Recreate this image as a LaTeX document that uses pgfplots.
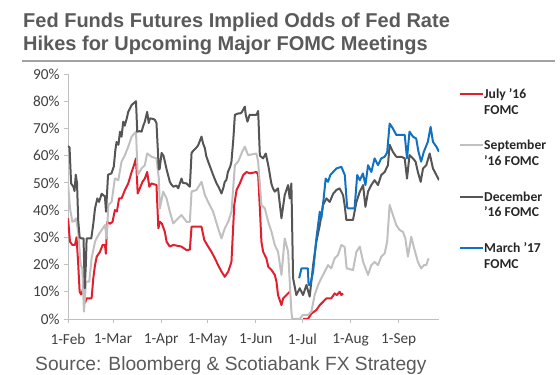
\documentclass[border=0pt]{standalone}
\usepackage{pgfplots}
\pgfplotsset{compat=1.18}
\usepackage{fontspec}
\setmainfont{Carlito}
\newfontfamily\arialfont{Liberation Sans}
\definecolor{cRed}{HTML}{E0202E}
\definecolor{cLight}{HTML}{C0C0C0}
\definecolor{cDark}{HTML}{555555}
\definecolor{cBlue}{HTML}{1172C2}
\definecolor{axisgray}{HTML}{BFBFBF}
\definecolor{ticktext}{HTML}{404040}
\definecolor{titlegray}{HTML}{5A5A5A}
\begin{document}
\begin{tikzpicture}
\useasboundingbox (0,0) rectangle (560pt,375pt);
\node[anchor=base west, inner sep=0pt, text=titlegray, font=\arialfont\bfseries\fontsize{20}{24}\selectfont] at (23pt,347pt) {Fed Funds Futures Implied Odds of Fed Rate};
\node[anchor=base west, inner sep=0pt, text=titlegray, font=\arialfont\bfseries\fontsize{20}{24}\selectfont] at (23pt,324pt) {Hikes for Upcoming Major FOMC Meetings};
\draw[line width=2.5pt, color=axisgray!85!black] (22pt,314pt) -- (555pt,314pt);
\node[anchor=base west, inner sep=0pt, text=titlegray, font=\arialfont\fontsize{19.2}{23}\selectfont] at (35pt,4pt) {Source: Bloomberg \& Scotiabank FX Strategy};
\begin{axis}[
  at={(68pt,56pt)}, anchor=south west,
  scale only axis, width=371pt, height=245pt,
  xmin=0, xmax=239, ymin=0, ymax=90,
  axis lines=left, axis line style={-, draw=axisgray, line width=0.9pt},
  xtick={0,29,60,90,121,151,182,213},
  xticklabels={1-Feb,1-Mar,1-Apr,1-May,1-Jun,1-Jul,1-Aug,1-Sep},
  ytick={0,10,20,30,40,50,60,70,80,90},
  yticklabels={0\%,10\%,20\%,30\%,40\%,50\%,60\%,70\%,80\%,90\%},
  tick align=outside, major tick length=4pt,
  tick style={draw=axisgray, line width=0.9pt},
  ticklabel style={font=\fontsize{15.3}{18}\selectfont, text=ticktext},
  xticklabel style={yshift=-7pt},
  yticklabel style={xshift=-1pt},
  unbounded coords=jump,
  every axis plot/.append style={line width=2pt, line join=round, mark=none},
  legend style={at={(1.054,0.945)}, anchor=north west, draw=none, fill=none,
    inner sep=0pt, row sep=39pt, column sep=0pt,
    font=\bfseries\fontsize{13.6}{15.5}\selectfont, text=black!85,
    nodes={inner sep=0pt}},
  legend cell align=left,
  legend image code/.code={\draw[#1, line width=2pt] (0pt,0pt) -- (23pt,0pt);},
]
\addplot[cRed] coordinates {
(0,37) (1.3,28.4) (2.8,27.2) (4.5,27.2) (5.5,30) (6.5,21) (7.5,10) (8.5,9) (9.9,11.3) (11,6) (12,7.6) (15.2,7.6) (16.3,15) (17.4,19.8) (18.5,22.9) (20.6,24.7) (22.3,27.2) (23.8,27.2) (24.4,24) (25.3,35.7) (27,35) (28.7,35.7) (30.2,40) (31.5,39.5) (32.9,44.3) (34.5,44.3) (36.7,47.4) (38.8,49.8) (41,54) (42.5,56.5) (43.8,59) (44.9,46.1) (46.3,48) (48,50.4) (49.5,51.6) (51,54) (52.4,48.6) (53.8,49.8) (57,49.2) (58.2,33.3) (59.2,35.7) (60.5,35) (62.4,32) (63.5,28.4) (65.6,26.6) (67.8,27.2) (73.1,26.6) (76.4,25.3) (78.5,25.5) (79.6,33.9) (86,33.9) (87.8,29) (90.3,26.6) (92.4,24.7) (94.6,22.3) (96.7,19.8) (98.9,17.4) (101,15.5) (103.2,17.4) (105.3,21) (107.1,41.9) (108.6,47.4) (110.7,49.8) (112.9,52.9) (115,54) (117.1,53.5) (121.4,54) (122.5,53) (123.6,40.6) (124.6,28.4) (125.7,24.7) (127.8,22.3) (129,19.2) (131.1,18) (133.2,16.2) (134.3,13.7) (135.3,8.8) (137.5,5.1) (138.6,7.6) (140.7,8.8) (142.8,10) (146,nan) (151.4,0) (154.6,0) (156.8,2) (160,3.3) (162.2,5.1) (166.5,7.6) (169.6,7.6) (171.8,9.4) (173.2,8.8) (175,10) (176.1,8.8) (177.2,9.4)
};
\addlegendentry{\begin{tabular}[t]{@{}l@{}}July '16\\FOMC\end{tabular}}
\addplot[cLight] coordinates {
(0,49.8) (1.3,40.6) (2.8,35.7) (4,36) (5.1,37) (6.6,32) (7.5,25) (8.2,19.8) (9.2,18.6) (10.3,2.7) (11.6,13.7) (13.7,13.7) (15.2,22.3) (17.4,28.4) (19.5,30.8) (21.7,32.7) (23.8,34.5) (24.9,29.6) (26,41.9) (28.1,43) (30.2,51.6) (32.4,51) (34.5,57.8) (36.7,60.2) (38.8,63.3) (41,67) (43.8,68.8) (44.9,52.9) (47.4,55.3) (49.5,56.5) (51,60.8) (53.8,59.6) (57,59) (58.5,51.6) (59.2,40.6) (61.3,46.8) (63.5,44.3) (65.6,39.4) (67.8,35.1) (69.9,36.4) (73.1,38.2) (76.4,35.7) (78.5,35.7) (79.6,46.8) (82.8,47.4) (86,50.4) (88.2,45.5) (90.3,43) (93.5,39.4) (96.7,33.3) (98.9,29.6) (101,33.3) (103.2,35.7) (105.3,39.4) (107.5,56.5) (109.6,57.8) (112.2,61.4) (113.9,63.3) (116,60.2) (121.4,60.8) (122.5,57.8) (124.6,41.9) (126.8,40.6) (129,35.7) (131.1,32) (133.2,27.2) (135.3,24.7) (137.5,16.2) (139.6,29.6) (141.8,24.7) (143.9,2.7) (144.5,0) (149.3,0) (151.4,1.5) (154.6,1.5) (156.8,2.7) (158.9,8.8) (161.1,12.5) (163.2,15) (165.4,17.4) (167.5,19.8) (169.6,18.6) (171.8,22.3) (173.9,23.5) (176.1,27.2) (178.2,26.5) (179.5,18.6) (183.6,18) (185.8,24.7) (188,26.6) (190.1,21) (193.3,16.2) (195.4,19.8) (197.5,21) (199.7,19.8) (201.8,22.9) (204,24.1) (205.6,28.4) (207.2,41.9) (209.3,38.2) (211.5,34.5) (213.6,32.7) (215.8,32) (217.3,29.6) (219,22.9) (221.1,30.2) (223.3,25.3) (225.4,21) (227.5,18.6) (229.3,19.8) (230.8,19.8) (232.3,22.3)
};
\addlegendentry{\begin{tabular}[t]{@{}l@{}}September\\'16 FOMC\end{tabular}}
\addplot[cDark] coordinates {
(0,63.5) (1,63) (2,49.8) (3.5,48.5) (4.2,47) (5,53) (5.8,50) (6.6,36) (7.5,30) (8.5,29.6) (10,29.6) (10.8,11.3) (11.5,20) (12,29.6) (15,29.6) (16.3,35) (17.4,40.6) (18.9,44.3) (20,43) (21.7,46) (23.8,45) (24.5,39.4) (25.8,53) (28,53.5) (29.5,56) (30.5,62) (31.3,65) (32.5,64) (33.5,68.8) (34.5,67) (35.6,72.5) (36.5,71) (38,74) (38.8,76.1) (41,78.6) (43.8,80) (44.6,68.8) (46,69) (47.4,68.8) (48.5,71) (49.5,72.5) (51,76.1) (52,72) (52.8,73.7) (55,73.5) (56,73.1) (57,72) (58.5,55) (59,55) (60.3,61) (61.5,60) (62.4,57.8) (63.5,55) (65.6,50.4) (66.5,49.5) (67.8,48.6) (69.9,49) (71,48) (73.1,51.6) (74,50) (76.4,49.8) (78.5,48.6) (79.6,61) (81,62) (82.8,63) (84,64) (86,67) (87,64.5) (88.2,62.7) (89,60) (90.3,57.8) (91.5,56) (93.5,52.9) (94.5,51.5) (95.7,49.8) (97,48.5) (98.9,46.1) (100,48) (101,50.4) (102,51) (103,54) (104.5,56) (105.3,57.8) (106.5,66) (107.5,75) (109.6,75.5) (111,75.5) (112,76) (113.9,78) (114.5,75) (115.6,72.5) (117,75) (121.4,75) (122.5,76.4) (123.6,60) (125.7,59) (127.4,60.8) (129,56.5) (131,49.8) (132,48) (133.2,46.8) (135.3,48) (136.5,42) (137.5,37) (139.6,45.5) (141.8,49.2) (142.8,44.3) (143.9,49.8) (145,15) (147.1,8.8) (149.3,11.3) (151.4,8.8) (153.6,12.5) (155.7,8.2) (157.9,19.8) (160,28.4) (162.2,34.5) (164.3,41.9) (166.5,44.3) (168.6,43) (170.8,46) (172.9,47.4) (175,48) (177.2,45.5) (178.2,41.9) (179.3,36.4) (183.6,36.4) (185.8,43) (188,46.8) (190.1,49.2) (191.6,41.2) (193.3,46.8) (195.4,49.2) (197.5,51) (199.7,49.2) (201.8,52.9) (204,54) (206.1,56.5) (207.2,64) (209.3,61.4) (211.5,59.6) (214.7,59.6) (216.9,59) (218.4,51.6) (220,60.2) (222.2,59) (223.9,57.8) (225.4,54) (227.2,50.4) (228.7,55.3) (230.8,56.5) (233,60.8) (235.1,55.3) (237.3,52.9) (239,51)
};
\addlegendentry{\begin{tabular}[t]{@{}l@{}}December\\'16 FOMC\end{tabular}}
\addplot[cBlue] coordinates {
(148.9,15) (150.4,18.6) (152.5,18.6) (154.5,18.6) (155,12.5) (156.1,12.5) (157.9,17.4) (160,29.6) (162.2,39.4) (163.2,37) (164.7,44.3) (166,51.6) (167.5,50.4) (169,52.9) (170.8,54) (172.9,55.3) (176.1,55.9) (178.3,52.9) (179.8,41.2) (180.3,40.6) (184.6,40.6) (186.3,52.9) (188,51) (190,53.5) (191.6,49.2) (193.3,56.5) (195.4,54) (197.5,59) (199.7,56.5) (201.8,59) (204,59.6) (205.6,61.2) (207.2,71.8) (209.3,70) (211.5,67.6) (214.7,67.6) (216.9,67.6) (218.4,59) (220,68.8) (222.2,67) (224.3,66.3) (225.8,61.4) (227.5,57.8) (229.2,61.4) (231.8,65.1) (233.6,70.6) (235.1,65.1) (237.3,63.3) (239,61.4)
};
\addlegendentry{\begin{tabular}[t]{@{}l@{}}March '17\\FOMC\end{tabular}}
\end{axis}
\end{tikzpicture}
\end{document}
